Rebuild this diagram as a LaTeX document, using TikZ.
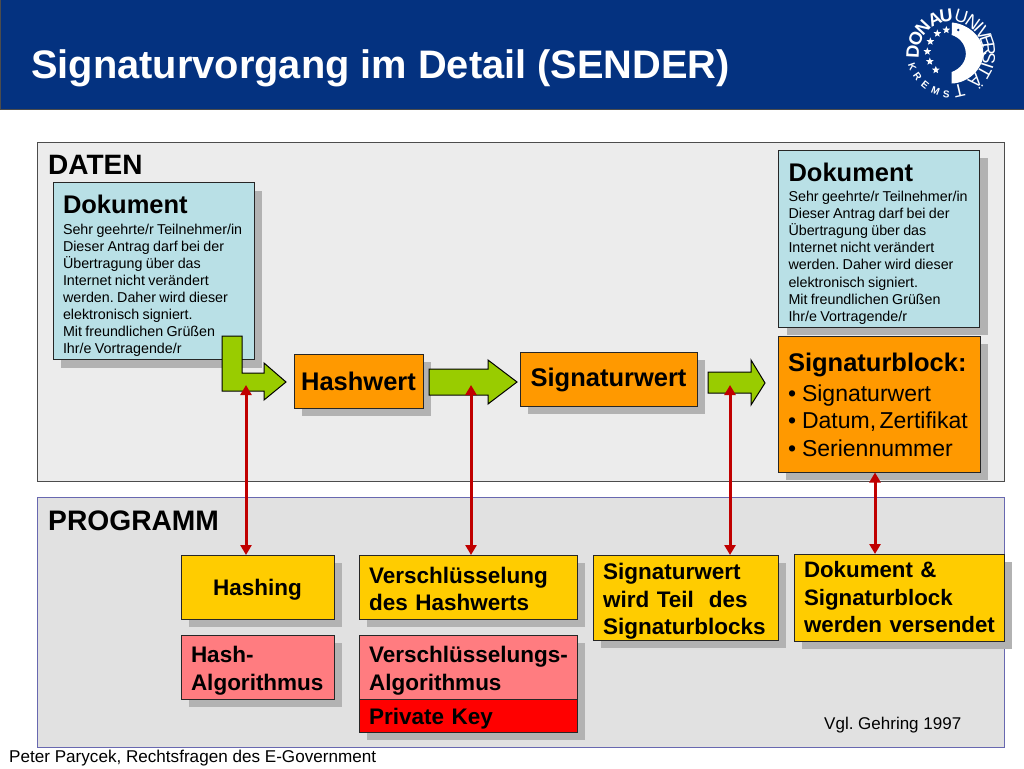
\documentclass[tikz,border=0pt]{standalone}
\usepackage{fontspec}
\setmainfont{Liberation Sans}
\usetikzlibrary{arrows.meta,shadows,shapes.geometric}
\newcommand{\fs}[2]{\fontsize{#1}{#2}\selectfont}
\newcommand{\bul}{•\hspace{6pt}}
\newcommand{\drop}[2]{\raisebox{-#1pt}[\height][\depth]{#2}}
\newcommand{\st}[1]{\rule{0pt}{#1pt}}
\frenchspacing
\definecolor{headblue}{RGB}{4,50,128}
\definecolor{panelA}{RGB}{236,236,236}
\definecolor{panelB}{RGB}{225,225,225}
\definecolor{panelBline}{RGB}{104,104,176}
\definecolor{shadowgray}{RGB}{178,178,178}
\definecolor{docblue}{RGB}{185,224,230}
\definecolor{hashorange}{RGB}{255,153,0}
\definecolor{progyellow}{RGB}{255,204,0}
\definecolor{algopink}{RGB}{255,124,128}
\definecolor{keyred}{RGB}{255,0,0}
\definecolor{arrowgreen}{RGB}{153,204,0}
\definecolor{linkred}{RGB}{192,0,0}
\tikzset{
  x=1pt,y=-1pt,
  boxbase/.style={draw=black!85,line width=1pt,inner ysep=0pt,outer sep=0pt,align=left,
    drop shadow={shadow xshift=8pt,shadow yshift=-8pt,fill=shadowgray,opacity=1}},
  docbox/.style={boxbase,fill=docblue,minimum width=201pt,minimum height=177pt,text width=181pt,inner xsep=10pt},
  databox/.style={boxbase,fill=hashorange,font=\fs{25.5}{28}\bfseries},
  progbox/.style={boxbase,fill=progyellow,font=\fs{22.5}{27.5}\bfseries},
  algobox/.style={boxbase,fill=algopink,font=\fs{22.5}{27.5}\bfseries},
  stackbox/.style={draw=black!85,line width=1pt,minimum width=218pt,text width=206pt,inner xsep=6pt,inner ysep=0pt,outer sep=0pt,align=left,font=\fs{22.5}{27.5}\bfseries},
  greenarrow/.style={draw=black,line width=1pt,fill=arrowgreen,line join=miter},
  redlink/.style={draw=linkred,line width=3pt,{Triangle[width=11pt,length=10pt]}-{Triangle[width=11pt,length=10pt]}},
  logoletter/.style={text=white,inner sep=0pt},
  logostar/.style={star,star points=5,star point ratio=2.3,fill=white,inner sep=0pt,minimum size=8pt}
}
\begin{document}
\begin{tikzpicture}
\useasboundingbox (0,0) rectangle (1024,768);
\fill[white] (0,0) rectangle (1024,768);
% header
\node[draw=black!70,line width=1pt,fill=headblue,minimum width=1024pt,minimum height=109pt,inner sep=0pt,outer sep=0pt] (header) at (512,54.5) {};
\node[anchor=base west,inner sep=0pt,text=white,font=\fs{39.8}{42}\bfseries] (title) at (31,78) {Signaturvorgang im Detail (SENDER)};
% logo
\begin{scope}[shift={(950.6,53.7)}]
  \foreach \c/\a [count=\i] in {D/177,O/156,N/137,A/115,U/97}
    \node[logoletter,font=\fs{18}{18}\bfseries,rotate=\a-90] (ld\i) at (\a:38 and -38) {\c};
  \foreach \c/\a [count=\i] in {U/74,N/55,I/43,V/32,E/19,R/7,S/-7,I/-18,T/-29,Ä/-48,T/-77}
    \node[logoletter,font=\fs{18}{20},rotate=\a-90] (lu\i) at (\a:38.5 and -38.5) {\c};
  \foreach \c/\a [count=\i] in {K/199,R/215,E/231,M/248,S/264}
    \node[logoletter,font=\fs{10}{10}\bfseries,rotate=\a+90] (lk\i) at (\a:40.5 and -40.5) {\c};
\end{scope}
\begin{scope}[shift={(948.3,55)}]
  \foreach \a/\b [count=\i] in {-2/-25,-11/-21.5,-18/-13.5,-21/-3.5,-18.5/6.5,-12.5/15}
    \node[logostar] (ls\i) at (\a,\b) {};
  \fill[white] (3.7,-32.5) .. controls (20,-31) and (35,-18) .. (35,-2)
     .. controls (35,14) and (20,28) .. (3.4,28.5) -- (3.4,17)
     .. controls (12,14) and (18,6) .. (17.5,-2)
     .. controls (17,-12) and (10,-18) .. (3.4,-20) -- cycle;
  \fill[headblue] (10,-25) circle (1.4);
\end{scope}
% panels
\node[draw=black!70,line width=1pt,fill=panelA,minimum width=967pt,minimum height=339pt,inner sep=0pt,outer sep=0pt] (daten) at (520.5,311.5) {};
\node[draw=panelBline,line width=1pt,fill=panelB,minimum width=967pt,minimum height=250pt,inner sep=0pt,outer sep=0pt] (programm) at (520.5,622) {};
\node[anchor=base west,inner sep=0pt,font=\fs{28}{30}\bfseries] (datenlabel) at (48,174) {DATEN};
\node[anchor=base west,inner sep=0pt,font=\fs{28.2}{30}\bfseries] (proglabel) at (48,530) {PROGRAMM};
% data boxes
\node[docbox] (dok1) at (153.5,271) {\fs{25.5}{28}\bfseries\st{28.6}Dokument\\[3pt]\fs{14.3}{17.1}\mdseries Sehr geehrte/r Teilnehmer/in\\Dieser Antrag darf bei der\\Übertragung über das\\Internet nicht verändert\\werden. Daher wird dieser\\elektronisch signiert.\\Mit freundlichen Grüßen\\Ihr/e Vortragende/r\par};
\node[docbox] (dok2) at (879,238.5) {\fs{25.5}{28}\bfseries\st{28.6}Dokument\\[3pt]\fs{14.3}{17.1}\mdseries Sehr geehrte/r Teilnehmer/in\\Dieser Antrag darf bei der\\Übertragung über das\\Internet nicht verändert\\werden. Daher wird dieser\\elektronisch signiert.\\Mit freundlichen Grüßen\\Ihr/e Vortragende/r\par};
\node[databox,minimum width=129pt,minimum height=54pt,inner xsep=0pt,align=center] (hashwert) at (358.5,381) {Hashwert};
\node[databox,minimum width=177pt,minimum height=54pt,inner xsep=0pt,align=center] (sigwert) at (608.5,379) {\drop{1}{Signaturwert}};
\node[boxbase,fill=hashorange,minimum width=202pt,minimum height=136pt,text width=182pt,inner xsep=10pt] (sigblock) at (879,404) {\fs{25.5}{28}\bfseries\st{20.6}Signaturblock:\\[2pt]\fs{23}{27.5}\mdseries \bul Signaturwert\\\bul Datum, Zertifikat\\\bul Seriennummer\par};
% programme boxes
\node[progbox,minimum width=153pt,minimum height=64pt,inner xsep=0pt,align=center] (hashing) at (257.5,587) {\drop{3}{Hashing}};
\node[progbox,minimum width=218pt,minimum height=64pt,text width=198pt,inner xsep=10pt] (verschl) at (468,587) {\st{20.5}Verschlüsselung\\des Hashwerts\par};
\node[progbox,minimum width=185pt,minimum height=85pt,text width=165pt,inner xsep=10pt] (teil) at (685.5,597.5) {\st{24.5}Signaturwert\\wird Teil~ des\\Signaturblocks\par};
\node[progbox,minimum width=210pt,minimum height=87pt,text width=196pt,inner xsep=7pt,font=\fs{22.3}{27.5}\bfseries] (versand) at (899,597.5) {\leftskip=3pt Dokument \&\\Signaturblock\\werden versendet\par};
\node[algobox,minimum width=153pt,minimum height=64pt,text width=133pt,inner xsep=10pt] (hashalgo) at (257.5,667) {\st{23.5}Hash-\\Algorithmus\par};
\node[algobox,minimum width=218pt,minimum height=97pt,inner xsep=0pt,draw=none] (algoshadow) at (468,683.5) {};
\node[stackbox,fill=algopink,minimum height=64pt] (verschlalgo) at (468,667) {\leftskip=4pt\st{23.5}Verschlüsselungs-\\Algorithmus\par};
\node[stackbox,fill=keyred,minimum height=33pt] (privkey) at (468,715.5) {\hspace*{4pt}\drop{3}{Private Key}};
% green block arrows
\draw[greenarrow] (222,336) -- (242,336) -- (242,373) -- (264,373) -- (264,363) -- (286,382) -- (264,400) -- (264,391) -- (222,391) -- cycle;
\draw[greenarrow] (429,369) -- (488,369) -- (488,360) -- (517,382) -- (488,404) -- (488,395) -- (429,395) -- cycle;
\draw[greenarrow] (708,372) -- (751,372) -- (751,360) -- (765,383) -- (751,405) -- (751,393) -- (708,393) -- cycle;
% links
\coordinate (linkA) at (246,385);
\coordinate (linkB) at (471,385);
\coordinate (linkC) at (730,385);
\coordinate (linkD) at (875,472.5);
\draw[redlink] (linkA) -- (linkA |- hashing.north);
\draw[redlink] (linkB) -- (linkB |- verschl.north);
\draw[redlink] (linkC) -- (linkC |- teil.north);
\draw[redlink] (linkD) -- (linkD |- versand.north);
% credits
\node[anchor=base west,inner sep=0pt,font=\fs{17}{20}] (vgl) at (824,729) {Vgl. Gehring 1997};
\node[anchor=base west,inner sep=0pt,font=\fs{17.1}{20}] (footer) at (9,762) {Peter Parycek, Rechtsfragen des E-Government};
\end{tikzpicture}
\end{document}
